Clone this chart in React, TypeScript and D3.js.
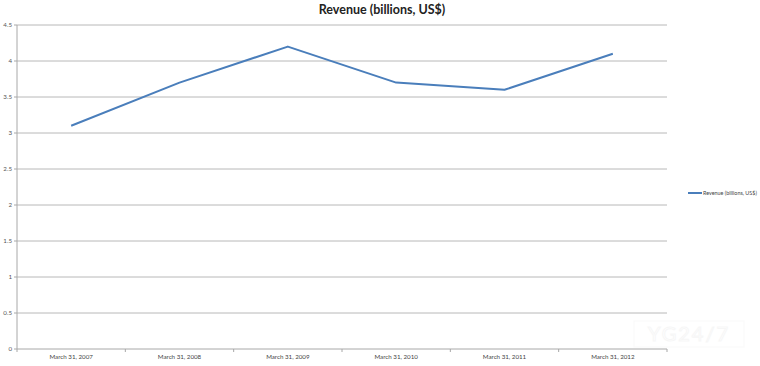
import React from 'react';
import * as d3 from 'd3';

const categories = ['March 31, 2007', 'March 31, 2008', 'March 31, 2009', 'March 31, 2010', 'March 31, 2011', 'March 31, 2012'];
const revenue = [3.1, 3.7, 4.2, 3.7, 3.6, 4.1];
const yTicks = [0, 0.5, 1, 1.5, 2, 2.5, 3, 3.5, 4, 4.5];
const seriesName = 'Revenue (billions, US$)';

export default function App() {
  const W = 760;
  const H = 366;
  const margin = { top: 25, right: 93, bottom: 17, left: 17 };
  const width = W - margin.left - margin.right;
  const height = H - margin.top - margin.bottom;

  const x = d3.scaleBand().domain(categories).range([0, width]).padding(0);
  const y = d3.scaleLinear().domain([0, 4.5]).range([height, 0]);

  const pts = categories.map((c, i) => ({ c, v: revenue[i] }));
  const line = d3.line<{ c: string; v: number }>()
    .x(d => (x(d.c) ?? 0) + x.bandwidth() / 2)
    .y(d => y(d.v));

  const font = "Lato, 'Open Sans', sans-serif";
  const bounds = [0, ...categories.map(c => (x(c) ?? 0) + x.bandwidth())];

  return (
    <svg width={W} height={H} style={{ position: 'absolute', top: 0, left: 0, background: '#fff' }} fontFamily={font}>
      <text x={382} y={14} textAnchor="middle" fontSize={12.5} fontWeight="bold" fill="#222">{seriesName}</text>
      <g transform={`translate(${margin.left},${margin.top})`}>
        {/* grid */}
        {yTicks.map(t => (
          <g key={t}>
            <line x1={0} x2={width} y1={y(t)} y2={y(t)} stroke={t === 0 ? '#a8a8a8' : '#b8b8b8'} strokeWidth={1} />
            <line x1={-3} x2={0} y1={y(t)} y2={y(t)} stroke="#a8a8a8" />
            <text x={-5} y={y(t)} dy="0.35em" textAnchor="end" fontSize={6.2} fill="#555">{t}</text>
          </g>
        ))}
        <line x1={0} x2={0} y1={0} y2={height} stroke="#a8a8a8" />
        {bounds.map((b, i) => (
          <line key={i} x1={b} x2={b} y1={height} y2={height + 3} stroke="#a8a8a8" />
        ))}
        {categories.map(c => (
          <text key={c} x={(x(c) ?? 0) + x.bandwidth() / 2} y={height + 10} textAnchor="middle" fontSize={6.2} fill="#444">{c}</text>
        ))}
        <path d={line(pts) ?? ''} fill="none" stroke="#4a7ebb" strokeWidth={2} strokeLinejoin="round" />
      </g>
      {/* legend */}
      <line x1={688} x2={702} y1={193} y2={193} stroke="#4a7ebb" strokeWidth={2} />
      <text x={703} y={193} dy="0.35em" fontSize={5.4} fill="#444">{seriesName}</text>
      {/* watermark */}
      <g opacity={0.35}>
        <rect x={634} y={321} width={110} height={26} fill="none" stroke="#f0f0f0" />
        <text x={689} y={341} textAnchor="middle" fontSize={20} fill="none" stroke="#e8e8e8" letterSpacing={2}>YG24/7</text>
      </g>
    </svg>
  );
}
